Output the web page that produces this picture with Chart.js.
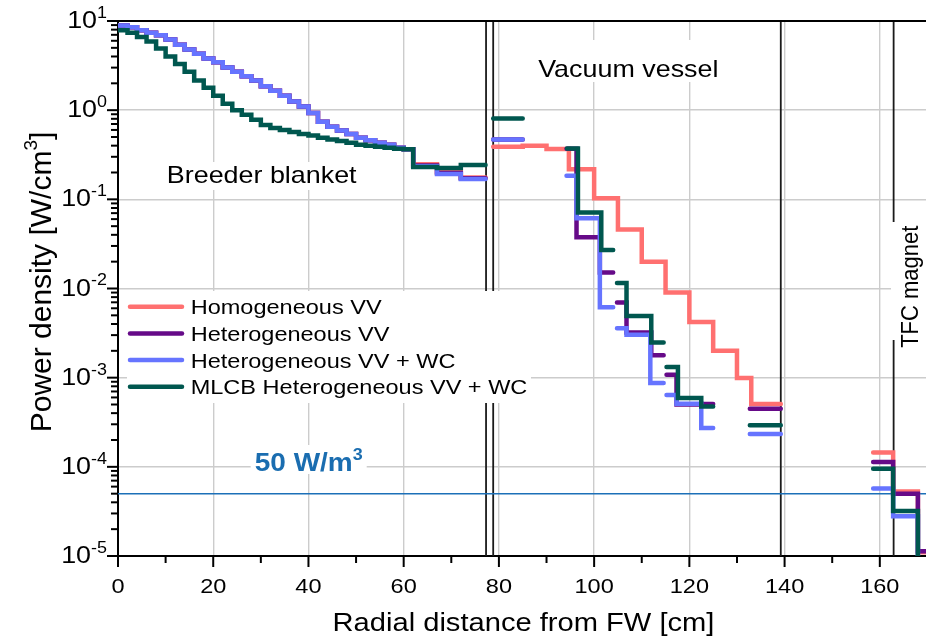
<!DOCTYPE html>
<html>
<head>
<meta charset="utf-8">
<script src="https://cdn.jsdelivr.net/npm/chart.js@4.4.1/dist/chart.umd.min.js"></script>
<style>
  html, body { margin: 0; padding: 0; background: #fff; }
  canvas { display: block; }
</style>
</head>
<body>
<canvas id="powerChart" width="926" height="637"></canvas>
<script>
const seriesNames = ['Homogeneous VV', 'Heterogeneous VV', 'Heterogeneous VV + WC', 'MLCB Heterogeneous VV + WC'];
const seriesColors = ['#ff7070', '#660a88', '#6674ff', '#00574f'];

// breeder blanket bins, cm
const blanketEdges = [0, 2, 4, 6, 8, 10, 12, 14, 16, 18, 20, 22, 24, 26, 28, 30, 32, 34, 36, 38, 40,
  42, 44, 46, 48, 50, 52, 54, 56, 58, 60, 62, 67, 72, 77.2];
const blanketStd = [8.9, 8.5, 7.9, 7.4, 6.9, 6.2, 5.4, 4.8, 4.3, 3.8, 3.45, 3.0, 2.7, 2.4, 2.15, 1.85,
  1.65, 1.45, 1.25, 1.1, 0.93, 0.74, 0.65, 0.59, 0.54, 0.49, 0.46, 0.43, 0.41, 0.38, 0.365];
const blanketMlcb = [7.9, 7.4, 6.6, 5.9, 4.9, 4.0, 3.3, 2.7, 2.15, 1.78, 1.45, 1.18, 1.0, 0.89, 0.78, 0.68,
  0.63, 0.60, 0.57, 0.54, 0.52, 0.49, 0.47, 0.45, 0.43, 0.41, 0.40, 0.39, 0.38, 0.37, 0.365];
const tailHom = [0.248, 0.204, 0.176];
const tailHet = [0.24, 0.198, 0.172];
const tailHetWc = [0.235, 0.192, 0.169];
const tailMlcb = [0.23, 0.225, 0.242];

// vacuum vessel
const vvHomEdges = [78.8, 85, 90, 94.7, 100, 105, 110, 115, 120, 125, 130, 133, 139.2];
const vvHom = [0.388, 0.398, 0.368, 0.217, 0.103, 0.046, 0.02, 0.009, 0.0042, 0.002, 0.00099, 0.000506];

const vvHetEdges = [[78.8, 85], [94.2, 96.3, 101.2, 104], [104.8, 106.8, 112, 114.6], [115.2, 117.3, 122.5, 125], [132.7, 139.2]];
const vvHet = [[0.468], [0.37, 0.0375, 0.0151], [0.00697, 0.0032, 0.00178], [0.00108, 0.0005, 0.000505], [0.000449]];

const vvHetWcEdges = [[78.8, 85], [94.2, 96.3, 101.2, 104], [104.8, 106.8, 111.8, 114.6], [115.2, 117.3, 122.5, 125], [132.7, 139.2]];
const vvHetWc = [[0.468], [0.184, 0.0612, 0.00617], [0.00359, 0.00302, 0.00087], [0.00064, 0.00051, 0.000272], [0.000233]];

const vvMlcbEdges = [[78.8, 85], [94.3, 96.6, 101.5, 104], [104.8, 106.8, 112, 114.6], [115.2, 117.6, 122.5, 125], [132.7, 139.2]];
const vvMlcb = [[0.807], [0.372, 0.0714, 0.027], [0.0115, 0.00493, 0.00248], [0.001315, 0.00059, 0.000476], [0.000292]];

// TF coil magnet
const tfcEdges = [158.6, 162.8, 168, 169.7];
const tfcHom = [1.45e-4, 5.3e-5, 1.1e-5];
const tfcHet = [1.13e-4, 5.0e-5, 1.13e-5];
const tfcHetWc = [5.7e-5, 2.8e-5, 5e-6];
const tfcMlcb = [9.5e-5, 3.2e-5, 5e-6];

const limitValue = 5e-5;          // 50 W/m3
const boundaries = [77.3, 78.8, 139.2, 162.9];
const xTicks = [0, 20, 40, 60, 80, 100, 120, 140, 160];
const decades = [-5, -4, -3, -2, -1, 0, 1];

const SX = 1.12;
const FONT = '"Liberation Sans", Arial, sans-serif';

function stepPoints(segments) {
  const pts = [];
  segments.forEach(([edges, vals]) => {
    vals.forEach((v, i) => pts.push({x: edges[i], y: v}));
    pts.push({x: edges[edges.length - 1], y: vals[vals.length - 1]});
    pts.push({x: edges[edges.length - 1], y: null});
  });
  return pts;
}

function zip(edgeList, valList) {
  return edgeList.map((e, i) => [e, valList[i]]);
}

const seriesData = [
  stepPoints([[blanketEdges, blanketStd.concat(tailHom)], [vvHomEdges, vvHom], [tfcEdges, tfcHom]]),
  stepPoints([[blanketEdges, blanketStd.concat(tailHet)], ...zip(vvHetEdges, vvHet), [tfcEdges, tfcHet]]),
  stepPoints([[blanketEdges, blanketStd.concat(tailHetWc)], ...zip(vvHetWcEdges, vvHetWc), [tfcEdges, tfcHetWc]]),
  stepPoints([[blanketEdges, blanketMlcb.concat(tailMlcb)], ...zip(vvMlcbEdges, vvMlcb), [tfcEdges, tfcMlcb]])
];

function setFont(ctx, size, weight) {
  ctx.font = (weight || 'normal') + ' ' + size + 'px ' + FONT;
}

function textW(ctx, str, size, weight) {
  setFont(ctx, size, weight);
  return ctx.measureText(str).width * SX;
}

function sText(ctx, str, x, y, size, align, weight) {
  ctx.save();
  ctx.translate(x, y);
  ctx.scale(SX, 1);
  setFont(ctx, size, weight);
  ctx.textAlign = align || 'left';
  ctx.textBaseline = 'alphabetic';
  ctx.fillText(str, 0, 0);
  ctx.restore();
}

// base text + superscript + tail, horizontal
function supText(ctx, base, sup, tail, x, y, size, supSize, align, weight) {
  const w1 = textW(ctx, base, size, weight);
  const w2 = textW(ctx, sup, supSize, weight);
  const w3 = tail ? textW(ctx, tail, size, weight) : 0;
  const total = w1 + w2 + w3;
  let sx = x;
  if (align === 'center') sx = x - total / 2;
  if (align === 'right') sx = x - total;
  sText(ctx, base, sx, y, size, 'left', weight);
  sText(ctx, sup, sx + w1, y - size * 0.42, supSize, 'left', weight);
  if (tail) sText(ctx, tail, sx + w1 + w2, y, size, 'left', weight);
  return total;
}

function whiteBox(ctx, x0, y0, x1, y1) {
  ctx.save();
  ctx.fillStyle = '#fff';
  ctx.fillRect(x0, y0, x1 - x0, y1 - y0);
  ctx.restore();
}

const decor = {
  id: 'decor',
  beforeDatasetsDraw(chart) {
    const {ctx, chartArea: a, scales: {x}} = chart;
    ctx.save();
    ctx.strokeStyle = '#1a1a1a';
    ctx.lineWidth = 1.8;
    boundaries.forEach(b => {
      const px = x.getPixelForValue(b);
      ctx.beginPath();
      ctx.moveTo(px, a.top);
      ctx.lineTo(px, a.bottom);
      ctx.stroke();
    });
    ctx.restore();
  },
  afterDatasetsDraw(chart) {
    const {ctx} = chart;
    ctx.save();
    ctx.fillStyle = '#000';

    // region labels
    let w = textW(ctx, 'Breeder blanket', 24);
    whiteBox(ctx, 261.7 - w / 2 - 4, 162, 261.7 + w / 2 + 4, 190);
    ctx.fillStyle = '#000';
    sText(ctx, 'Breeder blanket', 261.7, 183.3, 24, 'center');

    w = textW(ctx, 'Vacuum vessel', 24);
    whiteBox(ctx, 628.3 - w / 2 - 6, 40, 628.3 + w / 2 + 6, 82);
    ctx.fillStyle = '#000';
    sText(ctx, 'Vacuum vessel', 628.3, 76.7, 24, 'center');

    // TFC magnet, rotated
    whiteBox(ctx, 891, 222, 926, 340);
    ctx.save();
    ctx.translate(909.5, 286.7);
    ctx.scale(SX, 1);
    ctx.rotate(-Math.PI / 2);
    setFont(ctx, 22);
    ctx.fillStyle = '#000';
    ctx.textAlign = 'center';
    ctx.textBaseline = 'alphabetic';
    ctx.fillText('TFC magnet', 0, 7.5);
    ctx.restore();

    // 50 W/m3 label
    w = textW(ctx, '50 W/m', 25, 'bold') + textW(ctx, '3', 16, 'bold');
    whiteBox(ctx, 308.7 - w / 2 - 4, 445, 308.7 + w / 2 + 4, 474);
    ctx.fillStyle = '#1a6db0';
    supText(ctx, '50 W/m', '3', '', 308.7, 470.5, 25, 16, 'center', 'bold');

    // legend
    whiteBox(ctx, 127, 291, 531, 403);
    seriesNames.forEach((name, i) => {
      const ly = 306.7 + i * 26.7;
      ctx.strokeStyle = seriesColors[i];
      ctx.lineWidth = 4.5;
      ctx.lineCap = 'round';
      ctx.beginPath();
      ctx.moveTo(130, ly);
      ctx.lineTo(182, ly);
      ctx.stroke();
      ctx.fillStyle = '#000';
      sText(ctx, name, 190.7, ly + 7.6, 21, 'left');
    });
    ctx.restore();
  },
  afterDraw(chart) {
    const {ctx, chartArea: a, scales: {x, y}} = chart;
    ctx.save();
    ctx.strokeStyle = '#000';
    ctx.fillStyle = '#000';
    ctx.lineWidth = 2;

    // top frame line
    ctx.beginPath();
    ctx.moveTo(a.left, a.top);
    ctx.lineTo(a.right, a.top);
    ctx.stroke();

    // y ticks
    decades.forEach(e => {
      const py = y.getPixelForValue(Math.pow(10, e));
      ctx.beginPath();
      ctx.moveTo(a.left, py);
      ctx.lineTo(a.left - 11, py);
      ctx.stroke();
      if (e < 1) {
        for (let m = 2; m <= 9; m++) {
          const my = y.getPixelForValue(m * Math.pow(10, e));
          ctx.beginPath();
          ctx.moveTo(a.left, my);
          ctx.lineTo(a.left - 7, my);
          ctx.stroke();
        }
      }
      supText(ctx, '10', String(e), '', 107, py + 7, 24, 16, 'right');
    });

    // x ticks
    for (let v = 0; v <= 160; v += 10) {
      const px = x.getPixelForValue(v);
      const len = v % 20 === 0 ? 11 : 7;
      ctx.beginPath();
      ctx.moveTo(px, a.bottom);
      ctx.lineTo(px, a.bottom + len);
      ctx.stroke();
    }
    xTicks.forEach(v => {
      sText(ctx, String(v), x.getPixelForValue(v), 593, 21, 'center');
    });

    // axis titles
    sText(ctx, 'Radial distance from FW [cm]', 523.5, 630.7, 26, 'center');

    ctx.save();
    ctx.translate(40, 282);
    ctx.rotate(-Math.PI / 2);
    setFont(ctx, 30);
    const t1 = 'Power density [W/cm';
    const w1 = ctx.measureText(t1).width;
    setFont(ctx, 19);
    const w2 = ctx.measureText('3').width;
    setFont(ctx, 30);
    const w3 = ctx.measureText(']').width;
    const start = -(w1 + w2 + w3) / 2;
    ctx.textBaseline = 'alphabetic';
    ctx.fillText(t1, start, 10.5);
    setFont(ctx, 19);
    ctx.fillText('3', start + w1, -3);
    setFont(ctx, 30);
    ctx.fillText(']', start + w1 + w2, 10.5);
    ctx.restore();

    ctx.restore();
  }
};

const datasets = seriesNames.map((name, i) => ({
  label: name,
  data: seriesData[i],
  borderColor: seriesColors[i],
  backgroundColor: seriesColors[i],
  borderWidth: 4.5,
  pointRadius: 0,
  stepped: 'before',
  fill: false,
  spanGaps: false,
  borderCapStyle: 'round',
  borderJoinStyle: 'miter',
  order: 4 - i
}));

datasets.push({
  label: '50 W/m3',
  data: [{x: 0, y: limitValue}, {x: 169.7, y: limitValue}],
  borderColor: '#1c70b8',
  borderWidth: 1.5,
  pointRadius: 0,
  fill: false,
  order: 10
});

new Chart(document.getElementById('powerChart'), {
  type: 'line',
  data: {datasets: datasets},
  options: {
    responsive: false,
    animation: false,
    devicePixelRatio: 1,
    layout: {padding: {top: 21, right: 0, left: 0, bottom: 0}},
    plugins: {legend: {display: false}, tooltip: {enabled: false}},
    scales: {
      x: {
        type: 'linear',
        min: 0,
        max: 169.7,
        ticks: {display: false},
        grid: {color: '#cccccc', lineWidth: 1.4, drawTicks: false},
        border: {color: '#000', width: 2},
        afterBuildTicks: s => { s.ticks = xTicks.map(v => ({value: v})); },
        afterFit: s => { s.height = 81; }
      },
      y: {
        type: 'logarithmic',
        min: 1e-5,
        max: 10,
        ticks: {display: false},
        grid: {color: '#cccccc', lineWidth: 1.4, drawTicks: false},
        border: {color: '#000', width: 2},
        afterBuildTicks: s => { s.ticks = decades.map(e => ({value: Math.pow(10, e)})); },
        afterFit: s => { s.width = 118; }
      }
    }
  },
  plugins: [decor]
});
</script>
</body>
</html>
